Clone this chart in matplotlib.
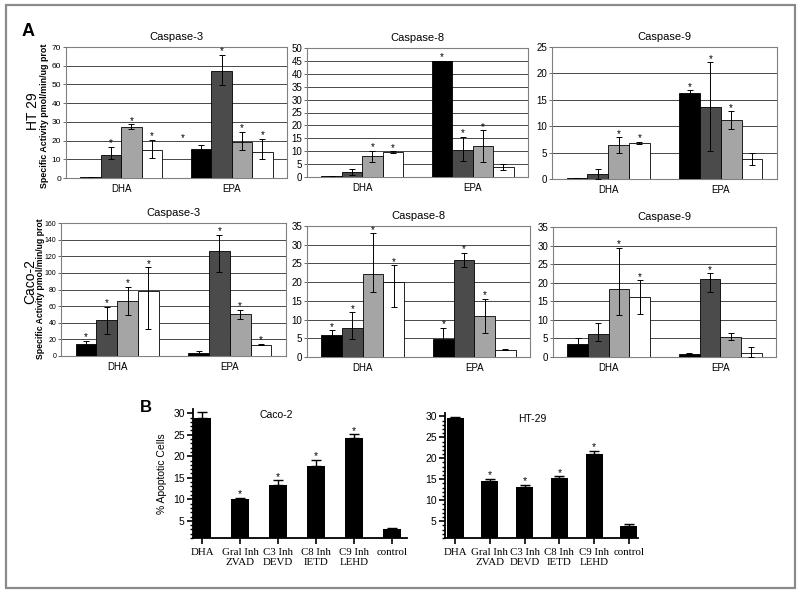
import numpy as np
import matplotlib
matplotlib.use('Agg')
import matplotlib.pyplot as plt
from matplotlib.patches import Rectangle

plt.rcParams['font.family'] = ['Liberation Sans', 'DejaVu Sans']

# ---- datos panel A (filas: negro, gris oscuro, gris claro, blanco; columnas: DHA, EPA)
groups = ['DHA', 'EPA']

ht29_c3 = [[0.3, 15.6], [12.4, 57.3], [27.3, 19.1], [14.9, 13.8]]
ht29_c3_up = [[0, 2.1], [4.4, 8.3], [1.3, 5.5], [5.5, 6.9]]
ht29_c3_dn = [[0, 2.1], [2.3, 7.5], [1.3, 3.9], [4.3, 3.7]]
ht29_c3_sig = [[0, 0], [1, 1], [1, 1], [1, 1]]

ht29_c8 = [[0.2, 45.1], [1.9, 10.6], [8.3, 12.1], [9.6, 3.7]]
ht29_c8_up = [[0, 0], [1.3, 5.0], [1.9, 6.0], [0.3, 1.2]]
ht29_c8_dn = [[0, 0], [1.3, 4.4], [2.4, 6.3], [0.2, 1.1]]
ht29_c8_sig = [[0, 1], [0, 1], [1, 1], [1, 0]]

ht29_c9 = [[0.1, 16.3], [0.9, 13.7], [6.4, 11.1], [6.9, 3.8]]
ht29_c9_up = [[0, 0.5], [1.0, 8.4], [1.5, 1.7], [0.2, 1.2]]
ht29_c9_dn = [[0, 0.5], [0.9, 8.4], [1.4, 1.6], [0.2, 1.2]]
ht29_c9_sig = [[0, 1], [0, 1], [1, 1], [1, 0]]

caco_c3 = [[14.1, 4.0], [43.4, 125.8], [66.3, 51.1], [78.0, 13.7]]
caco_c3_up = [[4.4, 1.6], [16.1, 20.2], [16.9, 4.8], [28.5, 0.5]]
caco_c3_dn = [[3.6, 1.5], [17.3, 24.5], [16.5, 6.1], [45.0, 0.5]]
caco_c3_sig = [[1, 0], [1, 1], [1, 1], [1, 1]]

caco_c8 = [[5.8, 4.7], [7.7, 25.9], [22.3, 11.0], [20.0, 2.0]]
caco_c8_up = [[1.3, 3.1], [4.2, 1.9], [10.7, 4.6], [4.5, 0.1]]
caco_c8_dn = [[1.3, 3.1], [2.9, 1.9], [4.9, 4.5], [6.6, 0.1]]
caco_c8_sig = [[1, 1], [1, 1], [1, 1], [1, 0]]

caco_c9 = [[3.5, 0.9], [6.2, 21.0], [18.2, 5.3], [16.2, 1.1]]
caco_c9_up = [[1.5, 0.2], [2.9, 1.5], [11.1, 1.2], [4.4, 1.5]]
caco_c9_dn = [[1.5, 0.2], [2.0, 3.4], [6.8, 0.8], [4.7, 1.1]]
caco_c9_sig = [[0, 0], [0, 1], [1, 0], [1, 0]]

# ---- datos panel B
b_labels = ['DHA', 'Gral Inh\nZVAD', 'C3 Inh\nDEVD', 'C8 Inh\nIETD', 'C9 Inh\nLEHD', 'control']
caco_b = [28.8, 10.0, 13.3, 17.7, 24.3, 3.2]
caco_b_err = [1.5, 0.4, 1.1, 1.4, 0.8, 0.1]
ht29_b = [29.7, 14.7, 13.2, 15.4, 21.0, 3.9]
ht29_b_err = [0.1, 0.4, 0.5, 0.3, 0.8, 0.4]
b_sig = [0, 1, 1, 1, 1, 0]

colors = ['#000000', '#4b4b4b', '#a5a5a5', '#ffffff']

W, H = 800, 594


def box(l, t, r, b):
    # pixeles -> fracciones de figura
    return [l / W, 1 - b / H, (r - l) / W, (b - t) / H]


def excel_panel(ax, mean, up, dn, sig, ymax, step, title, ysize=7):
    x = np.arange(len(groups))
    w = 0.185
    for i in range(4):
        xs = x + (i - 1.5) * w
        ax.bar(xs, mean[i], w, color=colors[i], edgecolor='black', linewidth=0.6, zorder=3)
        ax.errorbar(xs, mean[i], yerr=[dn[i], up[i]], fmt='none', ecolor='black',
                    elinewidth=0.7, capsize=2.5, capthick=0.7, zorder=4)
        for j in range(len(groups)):
            if sig[i][j]:
                ax.annotate('*', (xs[j], mean[i][j] + up[i][j]), xytext=(0, 0.5),
                            textcoords='offset points', ha='center', va='baseline', fontsize=7)
    ax.set_xlim(-0.5, 1.5)
    ax.set_ylim(0, ymax)
    ax.set_yticks(np.arange(0, ymax + step / 2, step))
    ax.set_xticks(x)
    ax.set_xticklabels(groups)
    ax.yaxis.grid(True, color='#2a2a2a', linewidth=0.6)
    ax.set_axisbelow(True)
    for s in ax.spines.values():
        s.set_color('#808080')
        s.set_linewidth(0.8)
    ax.tick_params(axis='x', length=0, labelsize=7, pad=4)
    ax.tick_params(axis='y', length=2.5, width=0.6, color='#555555', labelsize=ysize, pad=1)
    ax.set_title(title, fontsize=8, pad=5)


fig = plt.figure(figsize=(8, 5.94), dpi=100)

# Panel A fila superior (HT 29)
ax1 = fig.add_axes(box(66, 47, 287, 178))
excel_panel(ax1, ht29_c3, ht29_c3_up, ht29_c3_dn, ht29_c3_sig, 70, 10, 'Caspase-3', 6)
# asterisco desplazado del EPA negro
ax1.annotate('*', (1 - 1.5 * 0.185, ht29_c3[0][1] + ht29_c3_up[0][1]), xytext=(-13, 3),
             textcoords='offset points', ha='center', va='baseline', fontsize=7)
ax2 = fig.add_axes(box(307, 48, 528, 177))
excel_panel(ax2, ht29_c8, ht29_c8_up, ht29_c8_dn, ht29_c8_sig, 50, 5, 'Caspase-8')
ax3 = fig.add_axes(box(552, 47, 777, 179))
excel_panel(ax3, ht29_c9, ht29_c9_up, ht29_c9_dn, ht29_c9_sig, 25, 5, 'Caspase-9')

# Panel A fila inferior (Caco-2)
ax4 = fig.add_axes(box(61, 223, 286, 356))
excel_panel(ax4, caco_c3, caco_c3_up, caco_c3_dn, caco_c3_sig, 160, 20, 'Caspase-3', 5)
ax5 = fig.add_axes(box(307, 226, 530, 357))
excel_panel(ax5, caco_c8, caco_c8_up, caco_c8_dn, caco_c8_sig, 35, 5, 'Caspase-8')
ax6 = fig.add_axes(box(553, 227, 776, 357))
excel_panel(ax6, caco_c9, caco_c9_up, caco_c9_dn, caco_c9_sig, 35, 5, 'Caspase-9')

fig.text(28 / W, 1 - 31 / H, 'A', fontsize=13, fontweight='bold', ha='center', va='center')
fig.text(33 / W, 1 - 111 / H, 'HT 29', rotation=90, fontsize=10, ha='center', va='center')
fig.text(45 / W, 1 - 116 / H, 'Specific Activity pmol/min/ug prot', rotation=90,
         fontsize=6.4, fontweight='bold', ha='center', va='center')
fig.text(30 / W, 1 - 282 / H, 'Caco-2', rotation=90, fontsize=10, ha='center', va='center')
fig.text(40.5 / W, 1 - 289 / H, 'Specific Activity pmol/min/ug prot', rotation=90,
         fontsize=6.2, fontweight='bold', ha='center', va='center')


def prism_panel(ax, vals, err, title, tx, ylim, xlim, bw):
    x = np.arange(len(vals))
    ax.bar(x, vals, bw, color='black', zorder=3)
    ax.errorbar(x, vals, yerr=[np.zeros(len(vals)), err], fmt='none', ecolor='black',
                elinewidth=1.0, capsize=3.5, capthick=1.0, zorder=4)
    for i in range(len(vals)):
        if b_sig[i]:
            ax.annotate('*', (x[i], vals[i] + err[i]), xytext=(0, 0.5), textcoords='offset points',
                        ha='center', va='baseline', fontsize=7.5)
    ax.set_xlim(*xlim)
    ax.set_ylim(*ylim)
    ax.set_yticks([5, 10, 15, 20, 25, 30])
    ax.set_yticks(np.arange(1, 31), minor=True)
    ax.set_xticks(x)
    ax.set_xticklabels(b_labels, family=['Liberation Serif', 'DejaVu Serif'], fontsize=7.8)
    for s in ['top', 'right']:
        ax.spines[s].set_visible(False)
    for s in ['left', 'bottom']:
        ax.spines[s].set_linewidth(1.3)
    ax.tick_params(axis='y', which='major', length=4, width=1.2, labelsize=7.5, pad=2)
    ax.tick_params(axis='y', which='minor', length=2.5, width=1.0)
    ax.tick_params(axis='x', length=4, width=1.2, pad=3)
    ax.text(tx, 0.95, title, transform=ax.transAxes, ha='center', va='center', fontsize=7.5)


# Panel B
bx1 = fig.add_axes(box(193, 409, 407, 538))
prism_panel(bx1, caco_b, caco_b_err, 'Caco-2', 0.39, (1, 31), (-0.24, 5.4), 0.47)
bx1.set_ylabel('% Apoptotic Cells', fontsize=7.5, labelpad=4)
bx2 = fig.add_axes(box(445, 413, 638, 538))
prism_panel(bx2, ht29_b, ht29_b_err, 'HT-29', 0.45, (1.2, 30.8), (-0.29, 5.26), 0.49)

fig.text(146 / W, 1 - 408 / H, 'B', fontsize=12, fontweight='bold', ha='center', va='center')

# marco exterior
fig.patches.append(Rectangle((6 / W, 1 - 588 / H), 789 / W, 583 / H, transform=fig.transFigure,
                             fill=False, edgecolor='#8a8a8a', linewidth=1.6))

fig.savefig('out.png', dpi=100)
